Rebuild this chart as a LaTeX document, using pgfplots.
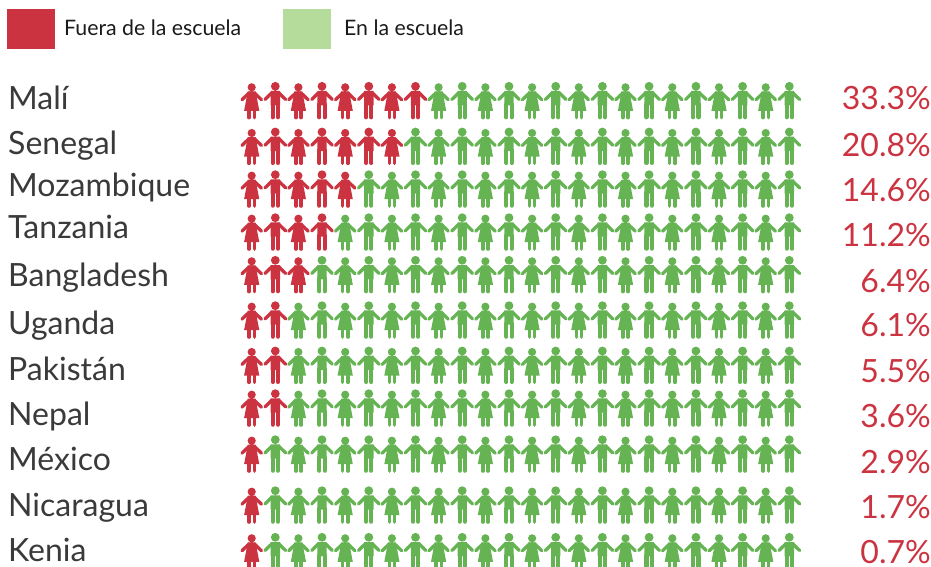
\documentclass[border=0pt]{standalone}
\usepackage{pgfplots}
\pgfplotsset{compat=1.18}
\usepackage{fontspec}
\setmainfont{Lato}
\definecolor{cRed}{HTML}{CB3340}
\definecolor{cLight}{HTML}{B5DC9B}
\definecolor{cGreen}{HTML}{66B354}
\definecolor{cText}{HTML}{3A3A3A}
\definecolor{cLeg}{HTML}{1A1A1A}
\def\PT#1#2{\pgfqpoint{#1pt}{#2pt}}
\pgfdeclareplotmark{woman}{%
  \pgfpathcircle{\PT{0}{32}}{4.1pt}%
  \pgfpathmoveto{\PT{-3.9}{28.0}}\pgfpathlineto{\PT{3.9}{28.0}}\pgfpathlineto{\PT{7.6}{8.5}}\pgfpathlineto{\PT{-7.6}{8.5}}\pgfpathclose
  \pgfusepathqfill
  \pgfsetroundcap\pgfsetlinewidth{3.3pt}%
  \pgfpathmoveto{\PT{2.6}{26.4}}\pgfpathlineto{\PT{9.7}{19.6}}%
  \pgfpathmoveto{\PT{-2.6}{26.4}}\pgfpathlineto{\PT{-9.7}{19.6}}\pgfusepathqstroke
  \pgfsetlinewidth{3.4pt}%
  \pgfpathmoveto{\PT{-2.6}{1.6}}\pgfpathlineto{\PT{-2.6}{10}}%
  \pgfpathmoveto{\PT{2.6}{1.6}}\pgfpathlineto{\PT{2.6}{10}}\pgfusepathqstroke
}
\pgfdeclareplotmark{man}{%
  \pgfpathcircle{\PT{0}{33}}{4.4pt}%
  \pgfpathrectanglecorners{\PT{-4.7}{14}}{\PT{4.7}{28.3}}%
  \pgfusepathqfill
  \pgfsetroundcap\pgfsetlinewidth{3.3pt}%
  \pgfpathmoveto{\PT{3.4}{26.6}}\pgfpathlineto{\PT{10.3}{19.8}}%
  \pgfpathmoveto{\PT{-3.4}{26.6}}\pgfpathlineto{\PT{-10.3}{19.8}}\pgfusepathqstroke
  \pgfsetlinewidth{4.1pt}%
  \pgfpathmoveto{\PT{-2.6}{2.0}}\pgfpathlineto{\PT{-2.6}{15}}%
  \pgfpathmoveto{\PT{2.6}{2.0}}\pgfpathlineto{\PT{2.6}{15}}\pgfusepathqstroke
}
\begin{document}
\begin{tikzpicture}
\useasboundingbox (0,0) rectangle (931pt,567pt);
\begin{axis}[at={(0,567pt)},anchor=north west,scale only axis,width=931pt,height=580pt,
  xmin=0,xmax=931,ymin=0,ymax=580,y dir=reverse,hide axis,clip=true]
% legend
\addplot[fill=cRed,draw=none] coordinates {(7,9)(55,9)(55,49)(7,49)} --cycle;
\addplot[fill=cLight,draw=none] coordinates {(283,9)(331,9)(331,49)(283,49)} --cycle;
% out of school, women
\addplot[only marks,mark=woman,mark options={draw=cRed,fill=cRed}] coordinates {
(251.7,119.3)(298.4,119.3)(345.2,119.3)(391.9,119.3)
(251.7,165)(298.4,165)(345.2,165)(391.9,165)
(251.7,207.7)(298.4,207.7)(345.2,207.7)
(251.7,250.7)(298.4,250.7)
(251.7,293.3)(298.4,293.3)
(251.7,338.7)
(251.7,384)
(251.7,426.7)
(251.7,472.7)
(251.7,523.7)
(251.7,570.3)};
% out of school, men
\addplot[only marks,mark=man,mark options={draw=cRed,fill=cRed}] coordinates {
(275.3,119.3)(322.0,119.3)(368.8,119.3)(415.5,119.3)
(275.3,165)(322.0,165)(368.8,165)
(275.3,207.7)(322.0,207.7)
(275.3,250.7)(322.0,250.7)
(275.3,293.3)
(275.3,338.7)
(275.3,384)
(275.3,426.7)};
% in school, women
\addplot[only marks,mark=woman,mark options={draw=cGreen,fill=cGreen}] coordinates {
(438.6,119.3)(485.4,119.3)(532.1,119.3)(578.8,119.3)(625.5,119.3)(672.3,119.3)(719.0,119.3)(765.7,119.3)
(438.6,165)(485.4,165)(532.1,165)(578.8,165)(625.5,165)(672.3,165)(719.0,165)(765.7,165)
(391.9,207.7)(438.6,207.7)(485.4,207.7)(532.1,207.7)(578.8,207.7)(625.5,207.7)(672.3,207.7)(719.0,207.7)(765.7,207.7)
(345.2,250.7)(391.9,250.7)(438.6,250.7)(485.4,250.7)(532.1,250.7)(578.8,250.7)(625.5,250.7)(672.3,250.7)(719.0,250.7)(765.7,250.7)
(345.2,293.3)(391.9,293.3)(438.6,293.3)(485.4,293.3)(532.1,293.3)(578.8,293.3)(625.5,293.3)(672.3,293.3)(719.0,293.3)(765.7,293.3)
(298.4,338.7)(345.2,338.7)(391.9,338.7)(438.6,338.7)(485.4,338.7)(532.1,338.7)(578.8,338.7)(625.5,338.7)(672.3,338.7)(719.0,338.7)(765.7,338.7)
(298.4,384)(345.2,384)(391.9,384)(438.6,384)(485.4,384)(532.1,384)(578.8,384)(625.5,384)(672.3,384)(719.0,384)(765.7,384)
(298.4,426.7)(345.2,426.7)(391.9,426.7)(438.6,426.7)(485.4,426.7)(532.1,426.7)(578.8,426.7)(625.5,426.7)(672.3,426.7)(719.0,426.7)(765.7,426.7)
(298.4,472.7)(345.2,472.7)(391.9,472.7)(438.6,472.7)(485.4,472.7)(532.1,472.7)(578.8,472.7)(625.5,472.7)(672.3,472.7)(719.0,472.7)(765.7,472.7)
(298.4,523.7)(345.2,523.7)(391.9,523.7)(438.6,523.7)(485.4,523.7)(532.1,523.7)(578.8,523.7)(625.5,523.7)(672.3,523.7)(719.0,523.7)(765.7,523.7)
(298.4,570.3)(345.2,570.3)(391.9,570.3)(438.6,570.3)(485.4,570.3)(532.1,570.3)(578.8,570.3)(625.5,570.3)(672.3,570.3)(719.0,570.3)(765.7,570.3)};
% in school, men
\addplot[only marks,mark=man,mark options={draw=cGreen,fill=cGreen}] coordinates {
(462.2,119.3)(509.0,119.3)(555.7,119.3)(602.4,119.3)(649.1,119.3)(695.9,119.3)(742.6,119.3)(789.3,119.3)
(415.5,165)(462.2,165)(509.0,165)(555.7,165)(602.4,165)(649.1,165)(695.9,165)(742.6,165)(789.3,165)
(368.8,207.7)(415.5,207.7)(462.2,207.7)(509.0,207.7)(555.7,207.7)(602.4,207.7)(649.1,207.7)(695.9,207.7)(742.6,207.7)(789.3,207.7)
(368.8,250.7)(415.5,250.7)(462.2,250.7)(509.0,250.7)(555.7,250.7)(602.4,250.7)(649.1,250.7)(695.9,250.7)(742.6,250.7)(789.3,250.7)
(322.0,293.3)(368.8,293.3)(415.5,293.3)(462.2,293.3)(509.0,293.3)(555.7,293.3)(602.4,293.3)(649.1,293.3)(695.9,293.3)(742.6,293.3)(789.3,293.3)
(322.0,338.7)(368.8,338.7)(415.5,338.7)(462.2,338.7)(509.0,338.7)(555.7,338.7)(602.4,338.7)(649.1,338.7)(695.9,338.7)(742.6,338.7)(789.3,338.7)
(322.0,384)(368.8,384)(415.5,384)(462.2,384)(509.0,384)(555.7,384)(602.4,384)(649.1,384)(695.9,384)(742.6,384)(789.3,384)
(322.0,426.7)(368.8,426.7)(415.5,426.7)(462.2,426.7)(509.0,426.7)(555.7,426.7)(602.4,426.7)(649.1,426.7)(695.9,426.7)(742.6,426.7)(789.3,426.7)
(275.3,472.7)(322.0,472.7)(368.8,472.7)(415.5,472.7)(462.2,472.7)(509.0,472.7)(555.7,472.7)(602.4,472.7)(649.1,472.7)(695.9,472.7)(742.6,472.7)(789.3,472.7)
(275.3,523.7)(322.0,523.7)(368.8,523.7)(415.5,523.7)(462.2,523.7)(509.0,523.7)(555.7,523.7)(602.4,523.7)(649.1,523.7)(695.9,523.7)(742.6,523.7)(789.3,523.7)
(275.3,570.3)(322.0,570.3)(368.8,570.3)(415.5,570.3)(462.2,570.3)(509.0,570.3)(555.7,570.3)(602.4,570.3)(649.1,570.3)(695.9,570.3)(742.6,570.3)(789.3,570.3)};
% texts
\tikzset{lg/.style={anchor=base west,inner sep=0pt,text=cLeg,font=\fontsize{21.3}{25}\selectfont},
 nm/.style={anchor=base west,inner sep=0pt,text=cText,font=\fontsize{32}{36}\selectfont},
 pc/.style={anchor=base east,inner sep=0pt,text=cRed,font=\fontsize{32}{36}\selectfont}}
\node[lg] at (axis cs:64,36) {Fuera de la escuela};
\node[lg] at (axis cs:344,36) {En la escuela};
\node[nm] at (axis cs:8,110) {Malí};
\node[nm] at (axis cs:8,154) {Senegal};
\node[nm] at (axis cs:8,196.7) {Mozambique};
\node[nm] at (axis cs:8,238.3) {Tanzania};
\node[nm] at (axis cs:8,286) {Bangladesh};
\node[nm] at (axis cs:8,334.3) {Uganda};
\node[nm] at (axis cs:8,380) {Pakistán};
\node[nm] at (axis cs:8,425.5) {Nepal};
\node[nm] at (axis cs:8,470.3) {México};
\node[nm] at (axis cs:8,516) {Nicaragua};
\node[nm] at (axis cs:8,561) {Kenia};
\node[pc] at (axis cs:931,109.5) {33.3\%};
\node[pc] at (axis cs:931,156) {20.8\%};
\node[pc] at (axis cs:931,201.5) {14.6\%};
\node[pc] at (axis cs:931,246.5) {11.2\%};
\node[pc] at (axis cs:931,292) {6.4\%};
\node[pc] at (axis cs:931,336.5) {6.1\%};
\node[pc] at (axis cs:931,382) {5.5\%};
\node[pc] at (axis cs:931,427.5) {3.6\%};
\node[pc] at (axis cs:931,473) {2.9\%};
\node[pc] at (axis cs:931,518) {1.7\%};
\node[pc] at (axis cs:931,563.5) {0.7\%};
\end{axis}
\end{tikzpicture}
\end{document}
